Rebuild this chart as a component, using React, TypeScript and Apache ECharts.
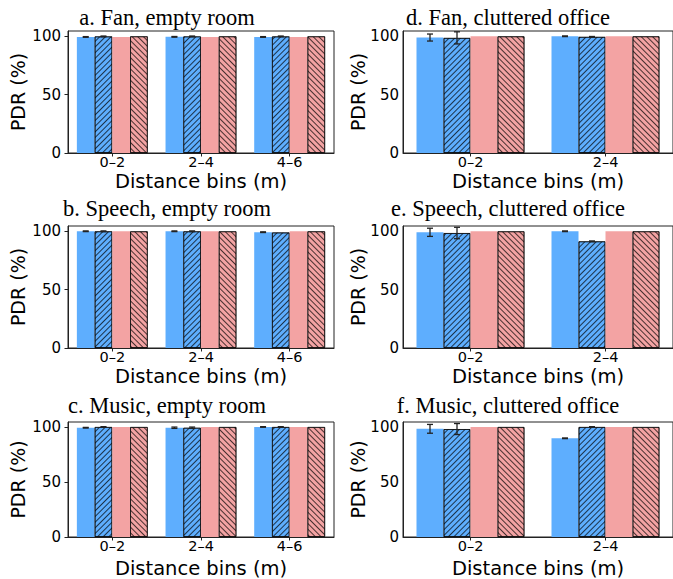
import React, { useEffect, useRef } from 'react';
import * as echarts from 'echarts';

// ---- data ----
const binsEmpty = ['0–2', '2–4', '4–6'];
const binsOffice = ['0–2', '2–4'];
const yTickValues = [0, 50, 100];

const fanEmptyBlue = [99.4, 99.5, 99.4];
const fanEmptyBlueErr = [0.3, 0.3, 0.3];
const fanEmptyBlueH = [99.9, 99.9, 99.9];
const fanEmptyBlueHErr = [0.3, 0.3, 0.3];
const fanEmptyPink = [99.4, 99.4, 99.4];
const fanEmptyPinkH = [100, 100, 100];

const speechEmptyBlue = [100, 100, 99.2];
const speechEmptyBlueErr = [0.3, 0.3, 0.3];
const speechEmptyBlueH = [100, 100, 99.0];
const speechEmptyBlueHErr = [0.3, 0.3, 0.0];
const speechEmptyPink = [100, 100, 100];
const speechEmptyPinkH = [100, 100, 100];

const musicEmptyBlue = [99.3, 99.3, 100];
const musicEmptyBlueErr = [0.3, 0.6, 0.3];
const musicEmptyBlueH = [100, 99.3, 100];
const musicEmptyBlueHErr = [0.3, 0.6, 0.3];
const musicEmptyPink = [100, 100, 100];
const musicEmptyPinkH = [100, 100, 100];

const fanOfficeBlue = [98.9, 100];
const fanOfficeBlueErr = [3.0, 0.3];
const fanOfficeBlueH = [98.6, 99.5];
const fanOfficeBlueHErr = [5.2, 0.3];
const fanOfficePink = [100, 100];
const fanOfficePinkH = [100, 100];

const speechOfficeBlue = [99.1, 100];
const speechOfficeBlueErr = [3.5, 0.3];
const speechOfficeBlueH = [98.5, 91.4];
const speechOfficeBlueHErr = [4.9, 0.3];
const speechOfficePink = [100, 100];
const speechOfficePinkH = [100, 100];

const musicOfficeBlue = [98.3, 89.7];
const musicOfficeBlueErr = [4.0, 0.3];
const musicOfficeBlueH = [98.1, 100];
const musicOfficeBlueHErr = [5.0, 0.3];
const musicOfficePink = [100, 100];
const musicOfficePinkH = [100, 100];

const panelData = [
  { title: 'a. Fan, empty room', cats: binsEmpty, blue: fanEmptyBlue, blueErr: fanEmptyBlueErr, blueH: fanEmptyBlueH, blueHErr: fanEmptyBlueHErr, pink: fanEmptyPink, pinkH: fanEmptyPinkH },
  { title: 'b. Speech, empty room', cats: binsEmpty, blue: speechEmptyBlue, blueErr: speechEmptyBlueErr, blueH: speechEmptyBlueH, blueHErr: speechEmptyBlueHErr, pink: speechEmptyPink, pinkH: speechEmptyPinkH },
  { title: 'c. Music, empty room', cats: binsEmpty, blue: musicEmptyBlue, blueErr: musicEmptyBlueErr, blueH: musicEmptyBlueH, blueHErr: musicEmptyBlueHErr, pink: musicEmptyPink, pinkH: musicEmptyPinkH },
  { title: 'd. Fan, cluttered office', cats: binsOffice, blue: fanOfficeBlue, blueErr: fanOfficeBlueErr, blueH: fanOfficeBlueH, blueHErr: fanOfficeBlueHErr, pink: fanOfficePink, pinkH: fanOfficePinkH },
  { title: 'e. Speech, cluttered office', cats: binsOffice, blue: speechOfficeBlue, blueErr: speechOfficeBlueErr, blueH: speechOfficeBlueH, blueHErr: speechOfficeBlueHErr, pink: speechOfficePink, pinkH: speechOfficePinkH },
  { title: 'f. Music, cluttered office', cats: binsOffice, blue: musicOfficeBlue, blueErr: musicOfficeBlueErr, blueH: musicOfficeBlueH, blueHErr: musicOfficeBlueHErr, pink: musicOfficePink, pinkH: musicOfficePinkH },
];

// ---- layout ----
const colLeft = [68, 403];
const colWidth = [266, 272];
const colTitleX = [167, 508];
const colLabelMargin = [7, 4];
const colNameGap = [41, 36];
const rowTop = [31, 226, 422];
const rowTitleY = [17, 208, 405];
const rowXNameGap = [18, 18, 21];
const gridHeight = 122;
const Y_MAX = 104.5;

const BLUE = '#5eaefe';
const PINK = '#f3a3a3';
const AXIS = '#222';
const SANS = '"DejaVu Sans", sans-serif';
const SERIF = '"Liberation Serif", "Times New Roman", serif';

const hatch = (rot: number) => ({
  symbol: 'rect',
  symbolSize: 1,
  color: 'rgba(0,0,0,0.7)',
  dashArrayX: [1, 0],
  dashArrayY: [0.8, 2.8],
  rotation: rot,
});

function buildOption() {
  const grids: any[] = [];
  const xAxes: any[] = [];
  const yAxes: any[] = [];
  const series: any[] = [];
  const graphics: any[] = [];

  panelData.forEach((p, i) => {
    const col = i < 3 ? 0 : 1;
    const row = i % 3;
    grids.push({
      left: colLeft[col],
      top: rowTop[row],
      width: colWidth[col],
      height: gridHeight,
      show: true,
      borderColor: AXIS,
      borderWidth: 1,
      containLabel: false,
    });
    xAxes.push({
      type: 'category',
      gridIndex: i,
      data: p.cats,
      name: 'Distance bins (m)',
      nameLocation: 'middle',
      nameGap: rowXNameGap[row],
      nameMoveOverlap: false,
      nameTextStyle: { fontSize: 19.5, fontFamily: SANS, color: '#000' },
      axisLine: { show: true, lineStyle: { color: AXIS, width: 1 } },
      axisTick: { show: true, alignWithLabel: true, length: 3.5, lineStyle: { color: AXIS } },
      axisLabel: { fontSize: 14.5, fontFamily: SANS, color: '#000', margin: 1.5 },
      splitLine: { show: false },
    });
    yAxes.push({
      type: 'value',
      gridIndex: i,
      min: 0,
      max: Y_MAX,
      interval: 50,
      name: 'PDR (%)',
      nameLocation: 'middle',
      nameRotate: 90,
      nameGap: colNameGap[col],
      nameMoveOverlap: false,
      nameTextStyle: { fontSize: 19, fontFamily: SANS, color: '#000' },
      axisLine: { show: true, lineStyle: { color: AXIS, width: 1 } },
      axisTick: { show: col === 0, length: 3.5, lineStyle: { color: AXIS }, customValues: yTickValues },
      axisLabel: {
        fontSize: 15,
        fontFamily: SANS,
        color: '#000',
        margin: colLabelMargin[col],
        customValues: yTickValues,
        formatter: (v: number) => (yTickValues.indexOf(v) >= 0 ? String(v) : ''),
      },
      splitLine: { show: false },
    });

    const barCommon = {
      type: 'bar',
      xAxisIndex: i,
      yAxisIndex: i,
      barGap: '0%',
      barCategoryGap: '20%',
    };
    series.push({ ...barCommon, name: 'Blue', data: p.blue, itemStyle: { color: BLUE } });
    series.push({
      ...barCommon,
      name: 'Blue hatched',
      data: p.blueH,
      itemStyle: { color: BLUE, borderColor: 'rgba(0,0,0,0.7)', borderWidth: 0.9, decal: hatch(-Math.PI / 4) },
    });
    series.push({ ...barCommon, name: 'Pink', data: p.pink, itemStyle: { color: PINK } });
    series.push({
      ...barCommon,
      name: 'Pink hatched',
      data: p.pinkH,
      itemStyle: { color: PINK, borderColor: 'rgba(0,0,0,0.7)', borderWidth: 0.9, decal: hatch(Math.PI / 4) },
    });

    const errData: number[][] = [];
    p.blue.forEach((v, c) => errData.push([c, 0, v, p.blueErr[c]]));
    p.blueH.forEach((v, c) => errData.push([c, 1, v, p.blueHErr[c]]));
    series.push({
      type: 'custom',
      name: 'Error',
      xAxisIndex: i,
      yAxisIndex: i,
      z: 10,
      encode: { x: 0, y: 2 },
      data: errData,
      renderItem: (params: any, api: any) => {
        const c = api.value(0);
        const k = api.value(1);
        const v = api.value(2);
        const e = api.value(3);
        if (!e) return null;
        const band = api.size([1, 0])[0];
        const base = api.coord([c, v]);
        const cx = base[0] + (-0.3 + 0.2 * k) * band;
        const yTop = api.coord([c, v + e])[1];
        const yBot = api.coord([c, v - e])[1];
        const cap = 3;
        const st = { stroke: '#222', lineWidth: 1.3 };
        return {
          type: 'group',
          children: [
            { type: 'line', shape: { x1: cx, y1: yTop, x2: cx, y2: yBot }, style: st },
            { type: 'line', shape: { x1: cx - cap, y1: yTop, x2: cx + cap, y2: yTop }, style: st },
            { type: 'line', shape: { x1: cx - cap, y1: yBot, x2: cx + cap, y2: yBot }, style: st },
          ],
        };
      },
    });

    graphics.push({
      type: 'text',
      x: colTitleX[col],
      y: rowTitleY[row],
      style: {
        text: p.title,
        fill: '#000',
        fontSize: 22.5,
        fontFamily: SERIF,
        align: 'center',
        verticalAlign: 'middle',
      },
    });
  });

  return {
    animation: false,
    backgroundColor: '#fff',
    grid: grids,
    xAxis: xAxes,
    yAxis: yAxes,
    series,
    graphic: graphics,
  };
}

export default function App() {
  const ref = useRef<HTMLDivElement>(null);
  useEffect(() => {
    document.body.style.margin = '0';
    if (!ref.current) return;
    const chart = echarts.init(ref.current, undefined, { renderer: 'svg' });
    chart.setOption(buildOption() as any);
    return () => chart.dispose();
  }, []);
  return <div ref={ref} style={{ width: 673, height: 579, overflow: 'hidden' }} />;
}
